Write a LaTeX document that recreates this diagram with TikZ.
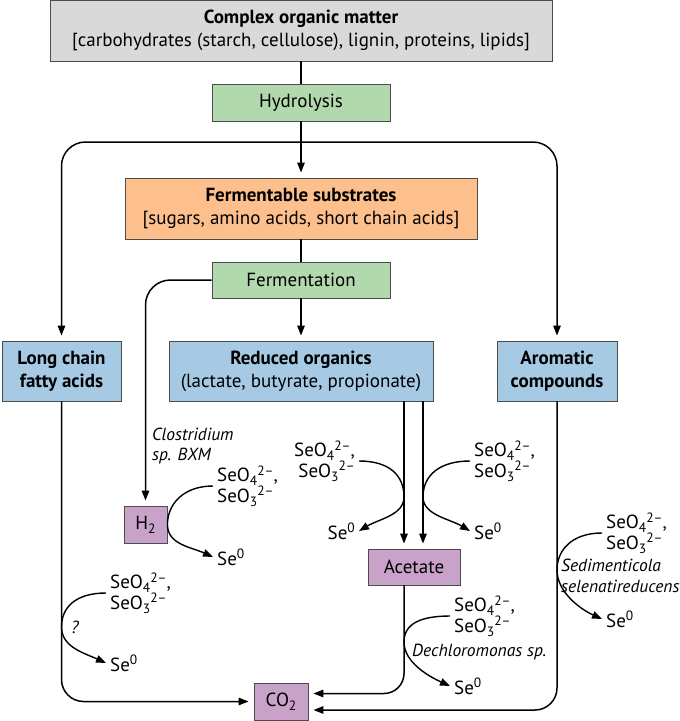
\documentclass[tikz,border=0pt]{standalone}
\usepackage{fontspec}
\setmainfont{PT Sans}
\usetikzlibrary{arrows.meta,calc}

\definecolor{cgray}{RGB}{217,217,217}
\definecolor{cgreen}{RGB}{178,216,174}
\definecolor{corange}{RGB}{253,192,140}
\definecolor{cblue}{RGB}{166,202,228}
\definecolor{cpurple}{RGB}{200,162,200}

\newcommand{\up}[1]{\raisebox{0.7ex}{\fontsize{13.5}{13.5}\selectfont #1}}
\newcommand{\dn}[1]{\raisebox{-0.4ex}{\fontsize{13.5}{13.5}\selectfont #1}}
\newcommand{\selox}[1]{SeO\dn{#1}\up{2–}}
\newcommand{\selpair}{\selox{4},\\\selox{3}}
\newcommand{\selzero}{Se\up{0}}

\tikzset{
  box/.style={draw=black!70, line width=0.9pt, align=center, inner sep=0pt,
    font=\fontsize{19}{23}\selectfont},
  arr/.style={-{Triangle[length=10pt,width=7.5pt]}, line width=1.5pt, shorten >=5pt},
  curv/.style={-{Triangle[length=10pt,width=7.5pt]}, line width=1.4pt},
  ion/.style={inner xsep=4pt, inner ysep=0pt, font=\fontsize{19}{20.5}\selectfont},
  spec/.style={inner sep=0pt, align=left, font=\fontsize{17.5}{20.5}\selectfont\itshape}
}

\begin{document}
\begin{tikzpicture}[x=1pt,y=-1pt]
\useasboundingbox (0,0) rectangle (680,721);

\node[box, fill=cgray, minimum width=502, minimum height=61] (com) at (301,30.5)
  {\textbf{Complex organic matter}\\{[}carbohydrates (starch, cellulose), lignin, proteins, lipids{]}};
\node[box, fill=cgreen, minimum width=178, minimum height=37] (hyd) at (301,102.5) {Hydrolysis};
\node[box, fill=corange, minimum width=352, minimum height=61] (fer) at (301,208.5)
  {\textbf{Fermentable substrates}\\{[}sugars, amino acids, short chain acids{]}};
\node[box, fill=cgreen, minimum width=178, minimum height=36] (fmt) at (301,280) {Fermentation};
\node[box, fill=cblue, minimum width=119, minimum height=60] (lcfa) at (61.5,371)
  {\textbf{Long chain}\\\textbf{fatty acids}};
\node[box, fill=cblue, minimum width=264, minimum height=60] (red) at (301,371)
  {\textbf{Reduced organics}\\(lactate, butyrate, propionate)};
\node[box, fill=cblue, minimum width=120, minimum height=60] (aro) at (557,371)
  {\textbf{Aromatic}\\\textbf{compounds}};
\node[box, fill=cpurple, minimum width=43, minimum height=37] (h2) at (145.5,524.5) {H\dn{2}};
\node[box, fill=cpurple, minimum width=92, minimum height=36] (ace) at (414,567) {Acetate};
\node[box, fill=cpurple, minimum width=54, minimum height=37] (co2) at (281,701.5) {CO\dn{2}};

\coordinate (split) at (301,142);
\draw[line width=1.5pt] (com) -- (hyd);
\draw[arr] (hyd) -- (fer);
\draw[arr, rounded corners=24pt] (split) -| (lcfa.north);
\draw[arr, rounded corners=24pt] (split) -| (aro.north);
\draw[line width=1.5pt] (fer) -- (fmt);
\draw[arr] (fmt) -- (red);
\draw[arr, rounded corners=25pt] (fmt.west) -| (h2.north);
\draw[arr] ($(red.south -| ace.north)+(-10,0)$) -- ($(ace.north)+(-10,0)$);
\draw[arr] ($(red.south -| ace.north)+(9,0)$) -- ($(ace.north)+(9,0)$);
\draw[arr, rounded corners=22pt] (lcfa.south) |- (co2.west);
\draw[arr, rounded corners=20pt] ($(ace.south)+(-10,0)$) |- ($(co2.east)+(0,-8)$);
\draw[arr, rounded corners=22pt] (aro.south) |- ($(co2.east)+(0,8.5)$);

\node[spec, anchor=west] (clos) at (152,446) {Clostridium\\sp. BXM};
\node[ion, anchor=west, align=left] (h2in) at (213,486) {\selpair};
\node[ion, anchor=west] (h2out) at (213,557) {\selzero};
\draw[curv] (h2in.west) .. controls +(-30,0) and +(0,-20) .. (h2.east)
  .. controls +(0,20) and +(-22,-10) .. (h2out.west);

\coordinate (rdlT) at (404,497);
\node[ion, anchor=east, align=right] (rdlin) at (359,461) {\selpair};
\node[ion, anchor=east] (rdlout) at (359,531) {\selzero};
\draw[curv] (rdlin.east) .. controls +(30,0) and +(0,-22) .. (rdlT)
  .. controls +(0,18) and +(20,-12) .. (rdlout.east);

\coordinate (rdrT) at (423,497);
\node[ion, anchor=west, align=left] (rdrin) at (470,461) {\selpair};
\node[ion, anchor=west] (rdrout) at (470,531) {\selzero};
\draw[curv] (rdrin.west) .. controls +(-30,0) and +(0,-22) .. (rdrT)
  .. controls +(0,18) and +(-20,-12) .. (rdrout.west);

\coordinate (qT) at (61.5,627);
\node[ion, anchor=west, align=left] (qin) at (106,593) {\selpair};
\node[ion, anchor=west] (qout) at (106,663) {\selzero};
\node[spec] (qmark) at (75,627) {?};
\draw[curv] (qin.west) .. controls +(-30,0) and +(0,-20) .. (qT)
  .. controls +(0,20) and +(-22,-10) .. (qout.west);

\coordinate (deT) at (404,642);
\node[ion, anchor=west, align=left] (dein) at (450,616) {\selpair};
\node[ion, anchor=west] (deout) at (450,686) {\selzero};
\node[spec, anchor=west] (dech) at (412,652) {Dechloromonas sp.};
\draw[curv] (dein.west) .. controls +(-30,0) and +(0,-18) .. (deT)
  .. controls +(0,20) and +(-22,-10) .. (deout.west);

\coordinate (seT) at (557,570);
\node[ion, anchor=west, align=left] (sein) at (602,533) {\selpair};
\node[ion, anchor=west] (seout) at (602,619) {\selzero};
\node[spec, anchor=west] (sedi) at (561,576) {Sedimenticola\\selenatireducens};
\draw[curv] (sein.west) .. controls +(-30,0) and +(0,-20) .. (seT)
  .. controls +(0,22) and +(-22,-10) .. (seout.west);
\end{tikzpicture}
\end{document}
